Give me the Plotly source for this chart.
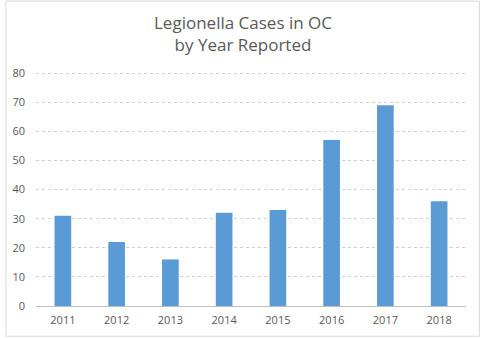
import plotly.graph_objects as go

years = ["2011", "2012", "2013", "2014", "2015", "2016", "2017", "2018"]
cases = [31, 22, 16, 32, 33, 57, 69, 36]
y_ticks = [0, 10, 20, 30, 40, 50, 60, 70, 80]
title_text = "Legionella Cases in OC<br>by Year Reported"

W, H = 480, 339
L, R, T, B = 31, 14, 72, 31
pw, ph = W - L - R, H - T - B

fig = go.Figure(go.Bar(x=years, y=cases, marker=dict(color="#5B9BD5", line=dict(width=0))))

fig.update_layout(
    width=W, height=H,
    margin=dict(l=L, r=R, t=T, b=B),
    paper_bgcolor="white", plot_bgcolor="white",
    bargap=0.69,
    showlegend=False,
    font=dict(family="Open Sans, Liberation Sans, sans-serif", color="#595959", size=11),
    xaxis=dict(showgrid=False, showline=False, ticks="", tickfont=dict(size=11),
               ticklabelstandoff=6),
    yaxis=dict(range=[0, 80.4], tickvals=y_ticks, showgrid=True, gridcolor="#D0D0D0",
               griddash="dot", zeroline=True, zerolinecolor="#BFBFBF", zerolinewidth=1,
               ticks="", tickfont=dict(size=11), ticklabelstandoff=10),
    annotations=[dict(text=title_text, xref="paper", yref="paper",
                      x=(W / 2 - L) / pw, xanchor="center",
                      y=1 + (T - 8) / ph, yanchor="top", showarrow=False,
                      font=dict(size=17, color="#595959", family="Open Sans, sans-serif"))],
    shapes=[dict(type="rect", xref="paper", yref="paper",
                 x0=(-L + 0.5) / pw, x1=1 + (R - 0.5) / pw,
                 y0=(-B + 0.5) / ph, y1=1 + (T - 0.5) / ph,
                 line=dict(color="#D9D9D9", width=1), layer="below")],
)

fig.write_html("out.html")
